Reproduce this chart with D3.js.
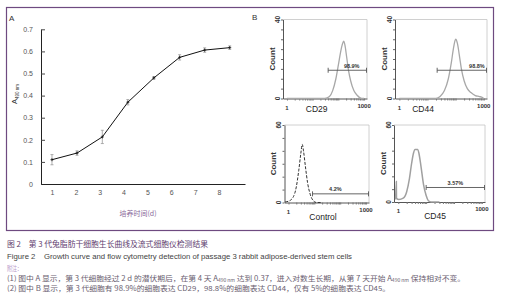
<!DOCTYPE html>
<html>
<head>
<meta charset="utf-8">
<script src="https://cdn.jsdelivr.net/npm/d3@7"></script>
<style>
  body { margin: 0; background: #fff; }
  svg { display: block; }
  text { font-family: "Liberation Sans", Arial, sans-serif; white-space: pre; }
  .cjk { font-family: "Noto Sans CJK SC", sans-serif; }
</style>
</head>
<body>
<div id="chart"></div>
<script>
// Panel A: growth curve
var days = [1, 2.05, 3.11, 4.18, 5.27, 6.35, 7.4, 8.45];
var absorb = [0.11, 0.14, 0.213, 0.37, 0.48, 0.573, 0.606, 0.617];
var absErr = [0.023, 0.01, 0.03, 0.012, 0.006, 0.012, 0.01, 0.008];
var dayTicks = [1, 2, 3, 4, 5, 6, 7, 8];
var absTicks = [0, 0.1, 0.2, 0.3, 0.4, 0.5, 0.6, 0.7];

// Panel B: flow cytometry histograms (fluorescence, count)
var cd29X = [1, 30, 45, 60, 80, 100, 120, 140, 160, 180, 210, 250, 300, 400, 550, 800, 1000];
var cd29Y = [0, 0, 1, 4, 10, 17, 23, 27, 29, 27, 21, 14, 9, 4, 1.5, 0, 0];
var cd44X = [1, 20, 28, 40, 55, 70, 85, 100, 115, 135, 160, 200, 260, 350, 500, 700, 900, 1000];
var cd44Y = [0, 0, 1, 4, 10, 18, 26, 30, 28, 22, 15, 9, 5, 3, 1.5, 1, 0.5, 0];
var ctrlX = [0.75, 1, 1.5, 2, 2.5, 3, 3.4, 3.8, 4.5, 5.5, 7, 9, 12, 20];
var ctrlY = [0.5, 1, 4, 12, 25, 38, 45, 40, 28, 15, 6, 1.5, 0, 0];
var cd45X = [0.8, 0.85, 0.86, 1.05, 1.5, 2, 2.5, 3, 3.5, 4, 5, 5.5, 6.5, 8, 10, 12, 15, 30];
var cd45Y = [2, 16, 3, 2, 3, 8, 18, 30, 38, 41, 41, 38, 28, 14, 5, 1, 0, 0];
var gateLow = [40, 22, 8.5, 10];
var gateLevel = [14.3, 14.3, 6.7, 11.3];
var gatePct = ["98.9%", "98.8%", "4.2%", "3.57%"];
var pctAt = [330, 570, 65, 112];
var channels = ["CD29", "CD44", "Control", "CD45"];
var countMax = [40, 40, 60, 60];

var captions = [
  "图 2　第 3 代兔脂肪干细胞生长曲线及流式细胞仪检测结果",
  "Figure 2    Growth curve and flow cytometry detection of passage 3 rabbit adipose-derived stem cells",
  "附注：",
  "(1) 图中 A 显示，第 3 代细胞经过 2 d 的潜伏期后，在第 4 天 A",
  "(2) 图中 B 显示，第 3 代细胞有 98.9%的细胞表达 CD29，98.8%的细胞表达 CD44，仅有 5%的细胞表达 CD45。"
];

var width = 505, height = 300;
var svg = d3.select("#chart").append("svg")
  .attr("width", width).attr("height", height);

// outer frame
svg.append("rect")
  .attr("x", 6.5).attr("y", 7.5).attr("width", 487).attr("height", 223)
  .attr("fill", "none").attr("stroke", "#6e4a80").attr("stroke-width", 1.2);

/* Panel A */
var gA = svg.append("g");
var xA = d3.scaleLinear().domain([0.54, 9.09]).range([41, 245]);
var yA = d3.scaleLinear().domain([0, 0.7]).range([184, 29.3]);

gA.append("text").attr("x", 9).attr("y", 21).attr("font-size", 8).attr("fill", "#333").text("A");

var yAxisA = d3.axisLeft(yA).tickValues(absTicks).tickSizeInner(-4).tickSizeOuter(0).tickPadding(8)
  .tickFormat(function(d) { return d === 0 ? "0" : d3.format(".1f")(d); });
gA.append("g").attr("transform", "translate(41,0)").call(yAxisA)
  .call(function(g) {
    g.select(".domain").attr("stroke", "#222");
    g.selectAll(".tick line").attr("stroke", "#444");
    g.selectAll("text").attr("font-size", 7).attr("fill", "#555")
      .attr("font-family", "Liberation Sans, Arial, sans-serif");
  });

var xAxisA = d3.axisBottom(xA).tickValues(dayTicks).tickSize(0).tickPadding(6).tickFormat(d3.format("d"));
gA.append("g").attr("transform", "translate(0,184)").call(xAxisA)
  .call(function(g) {
    g.select(".domain").attr("stroke", "#222");
    g.selectAll("text").attr("font-size", 7).attr("fill", "#555")
      .attr("font-family", "Liberation Sans, Arial, sans-serif");
  });

var ylab = gA.append("text").attr("transform", "translate(17,104) rotate(-90)")
  .attr("font-size", 7.5).attr("fill", "#333");
ylab.append("tspan").text("A");
ylab.append("tspan").attr("dy", 1.5).attr("font-size", 4.5).text("490 nm");

gA.append("text").attr("class", "cjk").attr("x", 138).attr("y", 216)
  .attr("text-anchor", "middle").attr("font-size", 7).attr("fill", "#8a6a9a").text("培养时间(d)");

var growth = days.map(function(d, i) { return { x: d, y: absorb[i], e: absErr[i] }; });

var bars = gA.append("g").attr("stroke", "#999").attr("stroke-width", 0.8);
growth.forEach(function(p) {
  bars.append("line").attr("x1", xA(p.x)).attr("x2", xA(p.x)).attr("y1", yA(p.y - p.e)).attr("y2", yA(p.y + p.e));
  bars.append("line").attr("x1", xA(p.x) - 1.5).attr("x2", xA(p.x) + 1.5).attr("y1", yA(p.y - p.e)).attr("y2", yA(p.y - p.e));
  bars.append("line").attr("x1", xA(p.x) - 1.5).attr("x2", xA(p.x) + 1.5).attr("y1", yA(p.y + p.e)).attr("y2", yA(p.y + p.e));
});

gA.append("path").datum(growth)
  .attr("fill", "none").attr("stroke", "#111").attr("stroke-width", 1)
  .attr("d", d3.line().x(function(d) { return xA(d.x); }).y(function(d) { return yA(d.y); }));

gA.selectAll(".pt").data(growth).enter().append("path")
  .attr("transform", function(d) { return "translate(" + xA(d.x) + "," + yA(d.y) + ")"; })
  .attr("d", "M-1.5,0H1.5M0,-1.5V1.5").attr("stroke", "#111").attr("stroke-width", 0.8);

/* Panel B */
svg.append("text").attr("x", 252).attr("y", 20).attr("font-size", 8).attr("fill", "#333").text("B");

var boxes = [
  { left: 283, right: 367, top: 19.5, bottom: 98.5, chX: 316.7, chDy: 10 },
  { left: 395, right: 487, top: 19.5, bottom: 98.5, chX: 423, chDy: 10 },
  { left: 284.5, right: 369, top: 125, bottom: 202.5, chX: 323, chDy: 14 },
  { left: 394, right: 485, top: 125, bottom: 202, chX: 435, chDy: 14 }
];
var histX = [cd29X, cd44X, ctrlX, cd45X];
var histY = [cd29Y, cd44Y, ctrlY, cd45Y];
var lineStyle = [
  { stroke: "#a8a8a8", width: 1.3, dash: null },
  { stroke: "#a8a8a8", width: 1.3, dash: null },
  { stroke: "#333", width: 1, dash: "3,1.5" },
  { stroke: "#a0a0a0", width: 1.5, dash: null }
];

boxes.forEach(function(b, i) {
  var g = svg.append("g");
  var x = d3.scaleLog().domain([0.7, 1300]).range([b.left, b.right]);
  var y = d3.scaleLinear().domain([0, countMax[i]]).range([b.bottom, b.top]);

  // frame
  g.append("path").attr("d", "M" + b.left + "," + b.top + "H" + b.right + "V" + b.bottom)
    .attr("fill", "none").attr("stroke", "#c4c4c4").attr("stroke-width", 0.8);

  // axes
  var minor = d3.range(0, countMax[i] + 1, countMax[i] === 40 ? 5 : 10);
  g.append("g").attr("transform", "translate(" + b.left + ",0)")
    .call(d3.axisLeft(y).tickValues(minor).tickSizeInner(2).tickSizeOuter(0).tickFormat(""))
    .call(function(a) { a.select(".domain").attr("stroke", "#555"); a.selectAll(".tick line").attr("stroke", "#666"); });

  g.append("g").attr("transform", "translate(0," + b.bottom + ")")
    .call(d3.axisBottom(x).tickValues(x.ticks().filter(function(t) { return t >= 1; })).tickSizeInner(2).tickSizeOuter(0).tickFormat(""))
    .call(function(a) { a.select(".domain").attr("stroke", "#555"); a.selectAll(".tick line").attr("stroke", "#777"); });

  // axis labels
  g.append("text").attr("transform", "translate(" + (b.left - 3.5) + "," + y(countMax[i]) + ") rotate(-90)")
    .attr("text-anchor", "middle").attr("font-size", 6.5).attr("font-weight", "bold").attr("fill", "#333").text(countMax[i]);
  g.append("text").attr("transform", "translate(" + (b.left - 3.5) + "," + y(0) + ") rotate(-90)")
    .attr("text-anchor", "middle").attr("font-size", 6.5).attr("font-weight", "bold").attr("fill", "#333").text("0");
  g.append("text").attr("transform", "translate(" + (b.left - 8.5) + "," + ((b.top + b.bottom) / 2) + ") rotate(-90)")
    .attr("text-anchor", "middle").attr("font-size", 8).attr("font-weight", "bold").attr("fill", "#333").text("Count");

  g.append("text").attr("x", x(1)).attr("y", b.bottom + 11)
    .attr("text-anchor", "middle").attr("font-size", 6).attr("font-weight", "bold").attr("fill", "#333").text("1");
  g.append("text").attr("x", x(1000)).attr("y", b.bottom + 9)
    .attr("text-anchor", "middle").attr("font-size", 6).attr("font-weight", "bold").attr("fill", "#333").text("1000");
  g.append("text").attr("x", b.chX).attr("y", b.bottom + b.chDy + 3)
    .attr("text-anchor", "middle").attr("font-size", 8.5).attr("fill", "#222").text(channels[i]);

  // histogram
  var pts = histX[i].map(function(v, k) { return [v, histY[i][k]]; });
  g.append("path").datum(pts)
    .attr("fill", "none").attr("stroke", lineStyle[i].stroke).attr("stroke-width", lineStyle[i].width)
    .attr("stroke-dasharray", lineStyle[i].dash)
    .attr("d", d3.line().x(function(d) { return x(d[0]); }).y(function(d) { return y(d[1]); }).curve(d3.curveMonotoneX));

  // gate
  var gy = y(gateLevel[i]), gx1 = x(gateLow[i]), gx2 = x(1300) - 0.5;
  g.append("path").attr("d", "M" + gx1 + "," + gy + "H" + gx2 + "M" + gx1 + "," + (gy - 2.5) + "V" + (gy + 2.5) + "M" + gx2 + "," + (gy - 2.5) + "V" + (gy + 2.5))
    .attr("stroke", "#555").attr("stroke-width", 0.9).attr("fill", "none");
  g.append("text").attr("x", x(pctAt[i])).attr("y", gy - 2.5)
    .attr("text-anchor", "middle").attr("font-size", 5.5).attr("font-weight", "bold").attr("fill", "#333").text(gatePct[i]);
});

/* Caption */
var capY = [246.5, 258.5, 270.5, 280.5, 290.5];
var capLen = [201, 345, 15, 458, 383];
var capCol = ["#5e3d6e", "#444", "#b89ac8", "#6a6070", "#6a6070"];
var capSize = [7.5, 7.5, 7, 7, 7];

captions.forEach(function(c, i) {
  var t = svg.append("text").attr("class", "cjk").attr("x", 7).attr("y", capY[i])
    .attr("font-size", capSize[i]).attr("fill", capCol[i]);
  if (i === 1) t.attr("class", null);
  if (i === 3) {
    t.append("tspan").text(c);
    t.append("tspan").attr("dy", 1.5).attr("font-size", 4.5).text("490 nm");
    t.append("tspan").attr("dy", -1.5).text(" 达到 0.37，进入对数生长期，从第 7 天开始 A");
    t.append("tspan").attr("dy", 1.5).attr("font-size", 4.5).text("490 nm");
    t.append("tspan").attr("dy", -1.5).text(" 保持相对不变。");
  }
  else t.text(c);
  t.attr("textLength", capLen[i]).attr("lengthAdjust", "spacingAndGlyphs");
});
</script>
</body>
</html>
